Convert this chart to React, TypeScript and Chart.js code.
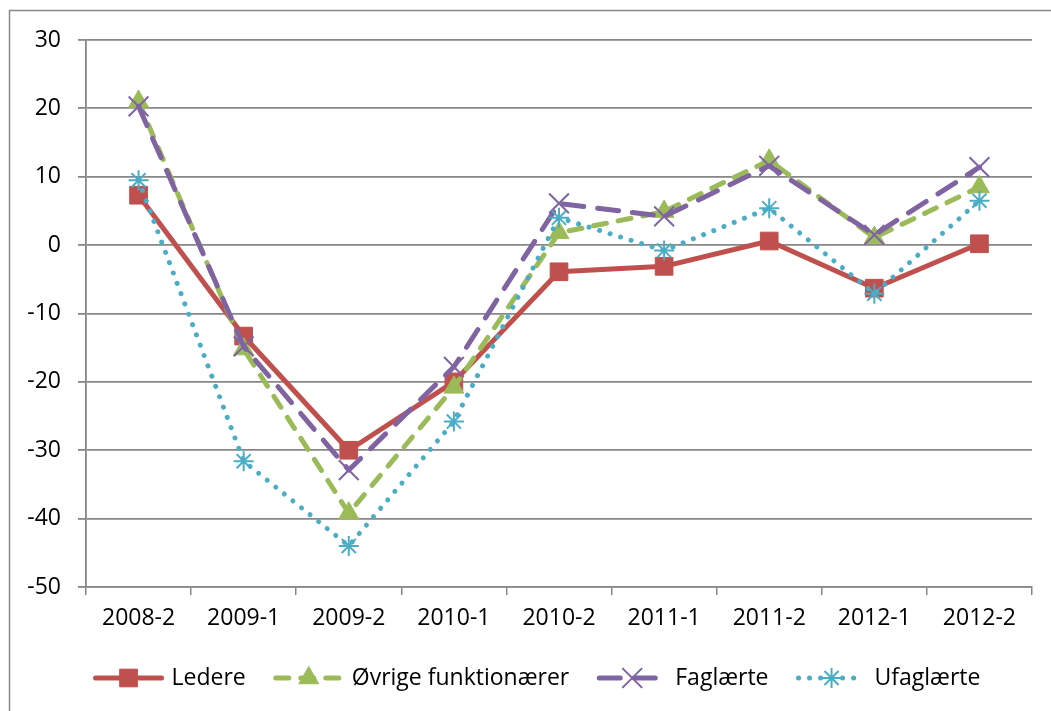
import React, { useEffect, useRef } from "react";
import { Chart, registerables } from "chart.js";

Chart.register(...registerables);

const categories = ["2008-2", "2009-1", "2009-2", "2010-1", "2010-2", "2011-1", "2011-2", "2012-1", "2012-2"];
const ledere = [7.3, -13.3, -30, -20, -3.9, -3.1, 0.6, -6.3, 0.2];
const ovrige = [21, -15.2, -39.2, -20.8, 1.8, 4.9, 12.4, 1.1, 8.5];
const faglaerte = [20.3, -14.8, -32.9, -17.8, 6.1, 4.2, 11.6, 1.5, 11.4];
const ufaglaerte = [9.5, -31.6, -44, -25.8, 4.0, -0.8, 5.4, -7.1, 6.5];
const yTicks = [30, 20, 10, 0, -10, -20, -30, -40, -50];

const FONT = "'Open Sans', sans-serif";
const GRID = "#878787";

function drawMarker(ctx: CanvasRenderingContext2D, style: string, r: number, x: number, y: number) {
  ctx.beginPath();
  if (style === "rect") {
    const s = Math.SQRT1_2 * r;
    ctx.rect(x - s, y - s, 2 * s, 2 * s);
    ctx.fill();
    ctx.stroke();
  } else if (style === "triangle") {
    const rad = -Math.PI / 2;
    ctx.moveTo(x + Math.cos(rad) * r, y + Math.sin(rad) * r);
    ctx.lineTo(x + Math.cos(rad + (2 * Math.PI) / 3) * r, y + Math.sin(rad + (2 * Math.PI) / 3) * r);
    ctx.lineTo(x + Math.cos(rad + (4 * Math.PI) / 3) * r, y + Math.sin(rad + (4 * Math.PI) / 3) * r);
    ctx.closePath();
    ctx.fill();
    ctx.stroke();
  } else if (style === "crossRot") {
    const o = Math.SQRT1_2 * r;
    ctx.moveTo(x - o, y - o);
    ctx.lineTo(x + o, y + o);
    ctx.moveTo(x - o, y + o);
    ctx.lineTo(x + o, y - o);
    ctx.stroke();
  } else if (style === "star") {
    const o = Math.SQRT1_2 * r;
    ctx.moveTo(x - o, y - o);
    ctx.lineTo(x + o, y + o);
    ctx.moveTo(x - o, y + o);
    ctx.lineTo(x + o, y - o);
    ctx.moveTo(x, y - r);
    ctx.lineTo(x, y + r);
    ctx.moveTo(x - r, y);
    ctx.lineTo(x + r, y);
    ctx.stroke();
  }
}

const legendPlugin = {
  id: "excelLegend",
  afterDraw(chart: any) {
    const ctx = chart.ctx;
    ctx.save();
    ctx.font = `23px ${FONT}`;
    const lineLen = 70;
    const textGap = 8;
    const itemGap = 28;
    const ds = chart.data.datasets.slice().sort((a: any, b: any) => a.legendIndex - b.legendIndex);
    const widths = ds.map((d: any) => lineLen + textGap + ctx.measureText(d.label).width);
    const total = widths.reduce((a: number, b: number) => a + b, 0) + itemGap * (ds.length - 1);
    let x = 537 - total / 2;
    const y = 678;
    ds.forEach((d: any, i: number) => {
      ctx.save();
      ctx.strokeStyle = d.borderColor;
      ctx.lineWidth = d.borderWidth;
      ctx.lineCap = "round";
      ctx.setLineDash(d.borderDash || []);
      ctx.beginPath();
      ctx.moveTo(x + 2, y);
      ctx.lineTo(x + lineLen - 2, y);
      ctx.stroke();
      ctx.restore();
      ctx.save();
      ctx.fillStyle = d.pointBackgroundColor;
      ctx.strokeStyle = d.pointBorderColor;
      ctx.lineWidth = d.pointBorderWidth;
      drawMarker(ctx, d.pointStyle, d.pointRadius, x + lineLen / 2, y);
      ctx.restore();
      ctx.fillStyle = "#000";
      ctx.textBaseline = "middle";
      ctx.textAlign = "left";
      ctx.fillText(d.label, x + lineLen + textGap, y);
      x += widths[i] + itemGap;
    });
    ctx.restore();
  },
};

const borderPlugin = {
  id: "outerBorder",
  beforeDraw(chart: any) {
    const ctx = chart.ctx;
    ctx.save();
    ctx.strokeStyle = "#898989";
    ctx.lineWidth = 1.5;
    ctx.beginPath();
    ctx.moveTo(9.5, 720);
    ctx.lineTo(9.5, 10.5);
    ctx.lineTo(1060, 10.5);
    ctx.stroke();
    ctx.restore();
  },
};

export default function App() {
  const ref = useRef<HTMLCanvasElement | null>(null);
  useEffect(() => {
    if (!ref.current) return;
    const common = { borderWidth: 5, borderCapStyle: "round", borderJoinStyle: "round", tension: 0, fill: false };
    const chart = new Chart(ref.current, {
      type: "line",
      data: {
        labels: categories,
        datasets: [
          {
            ...common,
            label: "Ledere",
            data: ledere,
            legendIndex: 0,
            order: 3,
            borderColor: "#C0504D",
            pointStyle: "rect",
            pointRadius: 12.5,
            pointHoverRadius: 12.5,
            pointBackgroundColor: "#C0504D",
            pointBorderColor: "#C0504D",
            pointBorderWidth: 1,
          },
          {
            ...common,
            label: "Øvrige funktionærer",
            data: ovrige,
            legendIndex: 1,
            order: 2,
            borderColor: "#9BBB59",
            borderDash: [13, 12],
            pointStyle: "triangle",
            pointRadius: 11.5,
            pointHoverRadius: 11.5,
            pointBackgroundColor: "#9BBB59",
            pointBorderColor: "#9BBB59",
            pointBorderWidth: 1,
          },
          {
            ...common,
            label: "Faglærte",
            data: faglaerte,
            legendIndex: 2,
            order: 1,
            borderColor: "#8064A2",
            borderDash: [21, 14],
            pointStyle: "crossRot",
            pointRadius: 14,
            pointHoverRadius: 14,
            pointBackgroundColor: "#8064A2",
            pointBorderColor: "#8064A2",
            pointBorderWidth: 2,
          },
          {
            ...common,
            label: "Ufaglærte",
            data: ufaglaerte,
            legendIndex: 3,
            order: 0,
            borderColor: "#4BACC6",
            borderDash: [0.01, 11],
            pointStyle: "star",
            pointRadius: 10,
            pointHoverRadius: 10,
            pointBackgroundColor: "#4BACC6",
            pointBorderColor: "#4BACC6",
            pointBorderWidth: 2,
          },
        ] as any,
      },
      options: {
        animation: false,
        responsive: true,
        maintainAspectRatio: false,
        layout: { padding: { left: 0, right: 19, top: 40, bottom: 0 } },
        plugins: {
          legend: { display: false },
          tooltip: { enabled: false },
        },
        scales: {
          x: {
            offset: true,
            afterFit: (s: any) => {
              s.height = 124;
            },
            grid: { drawOnChartArea: false, drawTicks: true, tickLength: 8, offset: true, color: GRID, lineWidth: 1.5 },
            border: { display: true, color: GRID, width: 1.5 },
            ticks: { color: "#000", font: { family: FONT, size: 23 }, padding: 10, maxRotation: 0, autoSkip: false },
          },
          y: {
            min: -50,
            max: 30,
            afterFit: (s: any) => {
              s.width = 86;
            },
            afterBuildTicks: (s: any) => {
              s.ticks = yTicks.map((v) => ({ value: v }));
            },
            grid: { color: GRID, lineWidth: 1.8, tickLength: 8, drawTicks: true },
            border: { display: true, color: GRID, width: 1.8 },
            ticks: { color: "#000", font: { family: FONT, size: 23 }, padding: 17 },
          },
        },
      } as any,
      plugins: [borderPlugin, legendPlugin],
    });
    return () => chart.destroy();
  }, []);
  return (
    <div style={{ position: "fixed", left: 0, top: 0, width: 1051, height: 711, background: "#fff" }}>
      <canvas ref={ref} />
    </div>
  );
}
